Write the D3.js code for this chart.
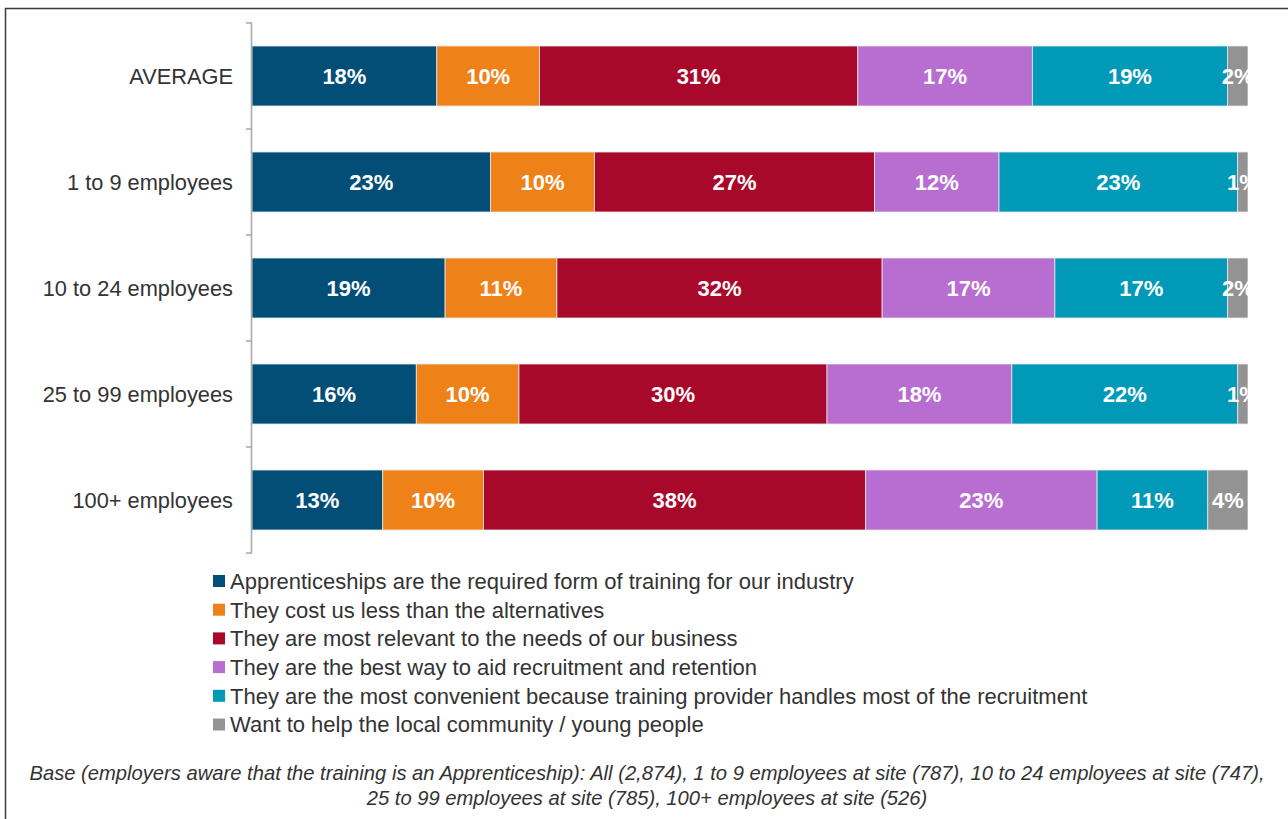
<!DOCTYPE html>
<html>
<head>
<meta charset="utf-8">
<script src="https://cdn.jsdelivr.net/npm/d3@7"></script>
<style>
  html, body { margin: 0; padding: 0; background: #fff; }
  svg { display: block; font-family: "Liberation Sans", Arial, sans-serif; }
</style>
</head>
<body>
<svg id="chart" width="1288" height="819"></svg>
<script>
// Reasons for choosing apprenticeships, by size of site (% of employers)
const categories = ["AVERAGE", "1 to 9 employees", "10 to 24 employees", "25 to 99 employees", "100+ employees"];
const seriesNames = [
  "Apprenticeships are the required form of training for our industry",
  "They cost us less than the alternatives",
  "They are most relevant to the needs of our business",
  "They are the best way to aid recruitment and retention",
  "They are the most convenient because training provider handles most of the recruitment",
  "Want to help the local community / young people"
];
const requiredForm   = [18, 23, 19, 16, 13];
const costLess       = [10, 10, 11, 10, 10];
const mostRelevant   = [31, 27, 32, 30, 38];
const bestWay        = [17, 12, 17, 18, 23];
const mostConvenient = [19, 23, 17, 22, 11];
const helpCommunity  = [2, 1, 2, 1, 4];
const seriesColors = ["#034e77", "#ef8119", "#a8092a", "#b86ed0", "#0099b8", "#939393"];
const footnoteLines = [
  "Base (employers aware that the training is an Apprenticeship): All (2,874), 1 to 9 employees at site (787), 10 to 24 employees at site (747),",
  "25 to 99 employees at site (785), 100+ employees at site (526)"
];

const seriesValues = [requiredForm, costLess, mostRelevant, bestWay, mostConvenient, helpCommunity];
const keys = seriesNames.map((_, i) => "s" + i);
const rows = categories.map((c, ci) => {
  const r = { category: c };
  keys.forEach((k, si) => { r[k] = seriesValues[si][ci]; });
  return r;
});

const svg = d3.select("#chart");

// outer frame
svg.append("rect")
  .attr("x", 5.5).attr("y", 8.5)
  .attr("width", 1300).attr("height", 830)
  .attr("fill", "none").attr("stroke", "#3a3a3a").attr("stroke-width", 1.5);

const plot = { left: 252, right: 1248, top: 23, bottom: 553 };

// 100% stacked layout
const stacked = d3.stack().keys(keys).offset(d3.stackOffsetExpand)(rows);

const x = d3.scaleLinear().domain([0, 1]).range([plot.left, plot.right]);
const y = d3.scaleBand().domain(categories)
  .range([plot.top, plot.bottom])
  .paddingInner(0.434).paddingOuter(0.217);
const color = d3.scaleOrdinal().domain(keys).range(seriesColors);

svg.append("defs").append("clipPath").attr("id", "plotClip")
  .append("rect")
  .attr("x", plot.left).attr("y", plot.top)
  .attr("width", plot.right - plot.left).attr("height", plot.bottom - plot.top);

const barsG = svg.append("g").attr("clip-path", "url(#plotClip)");

const layer = barsG.selectAll("g.layer").data(stacked).join("g")
  .attr("class", "layer")
  .attr("fill", d => color(d.key));

layer.selectAll("rect").data(d => d).join("rect")
  .attr("x", d => x(d[0]))
  .attr("y", d => y(d.data.category))
  .attr("width", d => x(d[1]) - x(d[0]))
  .attr("height", y.bandwidth())
  .attr("stroke", "#e8e8e8")
  .attr("stroke-width", 0.8);

// value labels
stacked.forEach(s => {
  barsG.selectAll(null).data(s).join("text")
    .attr("x", d => (x(d[0]) + x(d[1])) / 2)
    .attr("y", d => y(d.data.category) + y.bandwidth() / 2)
    .attr("dy", "0.36em")
    .attr("text-anchor", "middle")
    .attr("fill", "#fff")
    .attr("font-weight", "bold")
    .attr("font-size", 22)
    .text(d => d.data[s.key] + "%");
});

// category axis with ticks at band boundaries
const axisG = svg.append("g");
axisG.append("line")
  .attr("x1", plot.left - 0.5).attr("x2", plot.left - 0.5)
  .attr("y1", plot.top).attr("y2", plot.bottom)
  .attr("stroke", "#a6a6a6").attr("stroke-width", 1.5);
const boundaries = categories.map(c => y(c) - y.step() * y.paddingInner() / 2);
boundaries.push(plot.bottom);
axisG.selectAll("line.tick").data(boundaries).join("line")
  .attr("class", "tick")
  .attr("x1", plot.left - 6).attr("x2", plot.left)
  .attr("y1", d => d).attr("y2", d => d)
  .attr("stroke", "#a6a6a6").attr("stroke-width", 1.5);

axisG.selectAll("text.cat").data(categories).join("text")
  .attr("class", "cat")
  .attr("x", 233)
  .attr("y", d => y(d) + y.bandwidth() / 2)
  .attr("dy", "0.36em")
  .attr("text-anchor", "end")
  .attr("fill", "#333")
  .attr("font-size", 21.8)
  .text(d => d);

// legend
const legend = svg.append("g").attr("transform", "translate(213, 575)");
const legendItems = legend.selectAll("g").data(seriesNames).join("g")
  .attr("transform", (d, i) => `translate(0, ${i * 28.7})`);
legendItems.append("rect")
  .attr("width", 12).attr("height", 12)
  .attr("fill", (d, i) => seriesColors[i]);
legendItems.append("text")
  .attr("x", 17).attr("y", 6)
  .attr("dy", "0.36em")
  .attr("fill", "#333")
  .attr("font-size", 22)
  .text(d => d);

// base note
svg.append("g").selectAll("text").data(footnoteLines).join("text")
  .attr("x", 647)
  .attr("y", (d, i) => 780 + i * 25)
  .attr("text-anchor", "middle")
  .attr("font-style", "italic")
  .attr("fill", "#333")
  .attr("font-size", 20.2)
  .text(d => d);
</script>
</body>
</html>
